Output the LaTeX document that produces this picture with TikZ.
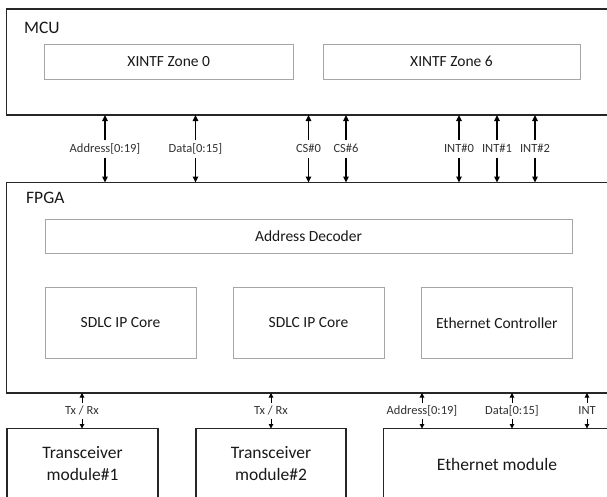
\documentclass[tikz,border=0pt]{standalone}
\usepackage{fontspec}
\setmainfont{Carlito}
\usetikzlibrary{arrows.meta}
\definecolor{framec}{HTML}{262626}
\definecolor{innerc}{HTML}{A6A6A6}
\definecolor{labelc}{HTML}{333333}
\begin{document}
\begin{tikzpicture}[x=1pt,y=-1pt,
  outerbox/.style={draw=framec,line width=1.5pt,anchor=north west,inner sep=0pt,outer sep=0pt},
  innerbox/.style={draw=innerc,line width=0.9pt,anchor=north west,inner sep=0pt,outer sep=0pt,
    font=\fontsize{15.5}{18}\selectfont,text=black!90},
  modbox/.style={outerbox,align=center,font=\fontsize{17.5}{22}\selectfont,text=black!90},
  title/.style={anchor=base west,inner sep=0pt,font=\fontsize{17.5}{21}\selectfont,text=black!90},
  buslabel/.style={inner xsep=1pt,inner ysep=2.8pt,text height=9pt,text depth=2.5pt,
    font=\fontsize{12.5}{14}\selectfont,text=labelc},
  sublabel/.style={buslabel,inner ysep=1.8pt},
  bus/.style={line width=1.8pt,draw=black,-{Triangle[length=6pt,width=5.5pt]}},
  link/.style={line width=1pt,draw=black,-{Triangle[length=4.5pt,width=4.5pt]}}
]
\clip (0,0) rectangle (607,496);
\fill[white] (0,0) rectangle (607,496);

% MCU block
\node[outerbox,minimum width=606pt,minimum height=106pt] (mcu) at (6.5,9) {};
\node[title] (mcutitle) at (24,33) {MCU};
\node[innerbox,minimum width=248.5pt,minimum height=35pt] (zone0) at (44.5,44) {XINTF Zone 0};
\node[innerbox,minimum width=257pt,minimum height=35pt] (zone6) at (323,44) {XINTF Zone 6};

% FPGA block
\node[outerbox,minimum width=606pt,minimum height=210.5pt] (fpga) at (6.5,182.5) {};
\node[title] (fpgatitle) at (26,203) {FPGA};
\node[innerbox,minimum width=527pt,minimum height=34pt] (decoder) at (45,219) {Address Decoder};
\node[innerbox,minimum width=151pt,minimum height=70.5pt] (sdlc1) at (45,287.5) {SDLC IP Core};
\node[innerbox,minimum width=151pt,minimum height=70.5pt] (sdlc2) at (233,287.5) {SDLC IP Core};
\node[innerbox,minimum width=150.5pt,minimum height=70.5pt] (ethctrl) at (421.5,287.5) {Ethernet Controller};

% External modules
\node[modbox,minimum width=151pt,minimum height=71pt] (trx1) at (7,428.5) {Transceiver\\module\#1};
\node[modbox,minimum width=150pt,minimum height=71pt] (trx2) at (196,428.5) {Transceiver\\module\#2};
\node[modbox,minimum width=227pt,minimum height=71pt] (ethmod) at (383.5,428.5) {Ethernet module};

% MCU <-> FPGA bus
\foreach \name/\xx/\txt in {addr/105/{Address[0:19]},data/195.5/{Data[0:15]},
    cs0/308.5/{CS\#0},cs6/346/{CS\#6},
    int0/459/{INT\#0},int1/497/{INT\#1},int2/535/{INT\#2}}{
  \node[buslabel] (\name) at (\xx,148.8) {\txt};
  \draw[bus] (\name) -- (\name |- mcu.south);
  \draw[bus] (\name) -- (\name |- fpga.north);
}

% FPGA <-> module links
\foreach \name/\xx/\txt in {tr1/82/{Tx / Rx},tr2/271/{Tx / Rx},
    eaddr/422/{Address[0:19]},edata/512/{Data[0:15]},eint/587/{INT}}{
  \node[sublabel] (\name) at (\xx,410.8) {\txt};
  \draw[link] (\name) -- (\name |- fpga.south);
  \draw[link] (\name) -- (\name |- trx1.north);
}
\end{tikzpicture}
\end{document}
